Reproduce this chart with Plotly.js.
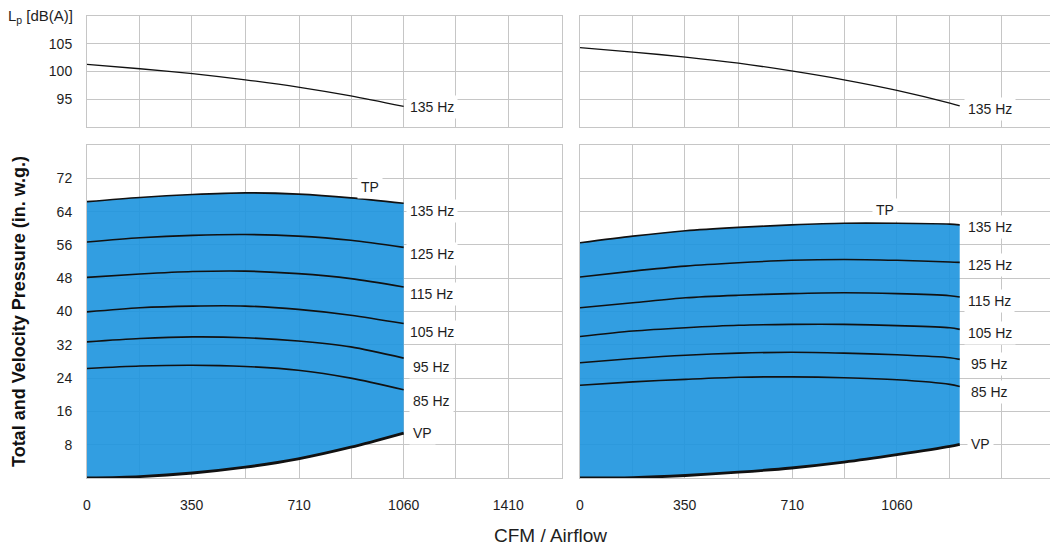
<!DOCTYPE html>
<html>
<head>
<meta charset="utf-8">
<script src="https://cdn.plot.ly/plotly-3.0.1.min.js"></script>
<style>html,body{margin:0;padding:0;background:#fff;}#chart{width:1050px;height:548px;}</style>
</head>
<body>
<div id="chart"></div>
<script>
// ---------- data ----------
const cfmLeft  = [0, 177, 353, 530, 707, 883, 1060];
const cfmRight = [0, 177, 353, 530, 707, 883, 1060, 1237, 1270];

const lpLeft  = [101.3, 100.5, 99.6, 98.5, 97.2, 95.6, 93.7];
const lpRight = [104.3, 103.5, 102.6, 101.5, 100.1, 98.5, 96.6, 94.3, 93.8];

const tpLeft     = [66.4, 67.4, 68.1, 68.5, 68.2, 67.3, 66.0];
const hz125Left  = [56.7, 57.7, 58.3, 58.5, 58.1, 57.1, 55.4];
const hz115Left  = [48.2, 49.0, 49.6, 49.7, 49.1, 47.9, 45.9];
const hz105Left  = [39.9, 40.9, 41.3, 41.3, 40.5, 39.1, 37.1];
const hz95Left   = [32.7, 33.5, 33.9, 33.7, 32.9, 31.5, 28.8];
const hz85Left   = [26.3, 26.9, 27.1, 26.8, 25.9, 24.0, 21.2];
const vpLeft     = [0, 0.35, 1.2, 2.6, 4.6, 7.4, 10.8];

const tpRight    = [56.5, 58.1, 59.4, 60.2, 60.8, 61.2, 61.2, 61.0, 60.8];
const hz125Right = [48.3, 49.7, 50.9, 51.7, 52.3, 52.5, 52.3, 51.9, 51.8];
const hz115Right = [40.9, 42.1, 43.3, 43.9, 44.3, 44.5, 44.3, 43.8, 43.5];
const hz105Right = [34.0, 35.3, 36.1, 36.7, 36.9, 36.9, 36.6, 36.1, 35.7];
const hz95Right  = [27.7, 28.7, 29.5, 30.0, 30.2, 30.0, 29.6, 28.9, 28.5];
const hz85Right  = [22.3, 23.1, 23.7, 24.2, 24.3, 24.1, 23.6, 22.5, 22.0];
const vpRight    = [0, 0.1, 0.6, 1.4, 2.4, 3.8, 5.6, 7.6, 8.1];

const xTickValsLeft  = [0, 350, 710, 1060, 1410];
const xTickTextLeft  = ['0', '350', '710', '1060', '1410'];
const xMinorLeft     = [175, 530, 885, 1235];
const xTickValsRight = [0, 350, 710, 1060];
const xTickTextRight = ['0', '350', '710', '1060'];
const xMinorRight    = [175, 530, 885, 1235, 1410];
const lpTicks        = [95, 100, 105];
const pTicks         = [8, 16, 24, 32, 40, 48, 56, 64, 72];

const curveLabels = ['TP', '135 Hz', '125 Hz', '115 Hz', '105 Hz', '95 Hz', '85 Hz', 'VP'];
const lpLabel = '135 Hz';
const yTitleTop = 'L<sub>p</sub> [dB(A)]';
const yTitleBottom = 'Total and Velocity Pressure (in. w.g.)';
const xTitle = 'CFM / Airflow';

// ---------- layout geometry (pixels) ----------
const W = 1050, H = 548;
const ML = 87, MT = 16, MB = 70, MR = 0;
const PW = W - ML - MR, PH = H - MT - MB;
const fx = p => (p - ML) / PW;
const fy = p => (H - MB - p) / PH;

const GRID = '#c6c6c6';
const TXT = '#1e1e1e';
const FONT = 'Liberation Sans, Arial, Helvetica, sans-serif';
const FILL = 'rgba(28,148,222,0.9)';

function axis(extra) {
  return Object.assign({
    showgrid: true, gridcolor: GRID, gridwidth: 1,
    showline: true, linecolor: GRID, linewidth: 1, mirror: true,
    zeroline: false, ticks: '', fixedrange: true,
    tickfont: {family: FONT, size: 14, color: TXT}
  }, extra);
}

const dxL = [fx(87), fx(562)];
const dxR = [fx(580), 1];
const dyT = [fy(127), fy(16)];
const dyB = [fy(478), fy(145)];

function line(x, y, xa, ya, w) {
  return {x: x, y: y, xaxis: xa, yaxis: ya, type: 'scatter', mode: 'lines',
          line: {color: '#111', width: w || 1.5, shape: 'spline', smoothing: 0.8},
          hoverinfo: 'skip'};
}

const traces = [];
// top panels
traces.push(line(cfmLeft, lpLeft, 'x', 'y', 1.3));
traces.push(line(cfmRight, lpRight, 'x2', 'y2', 1.3));
// bottom panels
function panel(x, tp, h125, h115, h105, h95, h85, vp, xa, ya) {
  const base = line(x, vp, xa, ya, 0); base.line.width = 0;
  traces.push(base);
  const top = line(x, tp, xa, ya, 1.6); top.fill = 'tonexty'; top.fillcolor = FILL;
  traces.push(top);
  [h125, h115, h105, h95, h85].forEach(s => traces.push(line(x, s, xa, ya, 1.6)));
  traces.push(line(x, vp, xa, ya, 2.8));
}
panel(cfmLeft, tpLeft, hz125Left, hz115Left, hz105Left, hz95Left, hz85Left, vpLeft, 'x3', 'y3');
panel(cfmRight, tpRight, hz125Right, hz115Right, hz105Right, hz95Right, hz85Right, vpRight, 'x4', 'y4');

// label annotations
const lf = {family: FONT, size: 14, color: TXT};
function lab(text, xa, ya, x, y, anchor, shift) {
  return {text: text, xref: xa, yref: ya, x: x, y: y, xanchor: anchor, yanchor: 'middle',
          xshift: shift, showarrow: false, bgcolor: '#ffffff', borderpad: 3, font: lf};
}
const leftLabelY  = [70.0, 64.2, 53.8, 44.2, 35.1, 26.7, 18.6, 10.8];
const rightLabelY = [64.4, 60.3, 51.1, 42.5, 34.8, 27.5, 20.6, 8.2];
const annotations = [];
curveLabels.forEach((t, i) => {
  if (i === 0) {
    annotations.push(lab(t, 'x3', 'y3', 947, leftLabelY[i], 'center', 0));
    annotations.push(lab(t, 'x4', 'y4', 1020, rightLabelY[i], 'center', 0));
  } else {
    const extra = (t === 'VP' || t === '95 Hz' || t === '85 Hz') ? 3 : 0;
    annotations.push(lab(t, 'x3', 'y3', 1060, leftLabelY[i], 'left', 2 + extra));
    annotations.push(lab(t, 'x4', 'y4', 1270, rightLabelY[i], 'left', 4 + extra));
  }
});
annotations.push(lab(lpLabel, 'x', 'y', 1060, 93.66, 'left', 2));
annotations.push(lab(lpLabel, 'x2', 'y2', 1270, 93.2, 'left', 4));
annotations.push({text: yTitleTop, xref: 'paper', yref: 'paper', x: fx(75), y: fy(16),
  xanchor: 'right', yanchor: 'middle', showarrow: false, font: {family: FONT, size: 15, color: TXT}});
annotations.push({text: xTitle, xref: 'paper', yref: 'paper', x: fx(550), y: fy(535),
  xanchor: 'center', yanchor: 'middle', showarrow: false, font: {family: FONT, size: 19, color: TXT}});

const layout = {
  width: W, height: H,
  margin: {l: ML, r: MR, t: MT, b: MB, pad: 0},
  paper_bgcolor: '#ffffff', plot_bgcolor: '#ffffff',
  showlegend: false, hovermode: false,
  font: {family: FONT, size: 14, color: TXT},
  xaxis:  axis({domain: dxL, range: [0, 1590], anchor: 'y', tickvals: xTickValsLeft, showticklabels: false,
                minor: {tickvals: xMinorLeft, showgrid: true, gridcolor: GRID, gridwidth: 1, ticks: ''}}),
  xaxis2: axis({domain: dxR, range: [0, 1572], anchor: 'y2', tickvals: xTickValsRight, showticklabels: false,
                minor: {tickvals: xMinorRight, showgrid: true, gridcolor: GRID, gridwidth: 1, ticks: ''}}),
  xaxis3: axis({domain: dxL, range: [0, 1590], anchor: 'y3', tickvals: xTickValsLeft, ticktext: xTickTextLeft,
                ticklabelstandoff: 14,
                minor: {tickvals: xMinorLeft, showgrid: true, gridcolor: GRID, gridwidth: 1, ticks: ''}}),
  xaxis4: axis({domain: dxR, range: [0, 1572], anchor: 'y4', tickvals: xTickValsRight, ticktext: xTickTextRight,
                ticklabelstandoff: 14,
                minor: {tickvals: xMinorRight, showgrid: true, gridcolor: GRID, gridwidth: 1, ticks: ''}}),
  yaxis:  axis({domain: dyT, range: [90, 110], anchor: 'x', tickvals: lpTicks, ticklabelstandoff: 11}),
  yaxis2: axis({domain: dyT, range: [90, 110], anchor: 'x2', tickvals: lpTicks, showticklabels: false, mirror: false}),
  yaxis3: axis({domain: dyB, range: [0, 80], anchor: 'x3', tickvals: pTicks, ticklabelstandoff: 11,
                title: {text: yTitleBottom, standoff: 26, font: {family: FONT, size: 18, color: '#111', weight: 'bold'}}}),
  yaxis4: axis({domain: dyB, range: [0, 80], anchor: 'x4', tickvals: pTicks, showticklabels: false, mirror: false}),
  annotations: annotations
};

Plotly.newPlot('chart', traces, layout, {staticPlot: true, displayModeBar: false});
</script>
</body>
</html>
